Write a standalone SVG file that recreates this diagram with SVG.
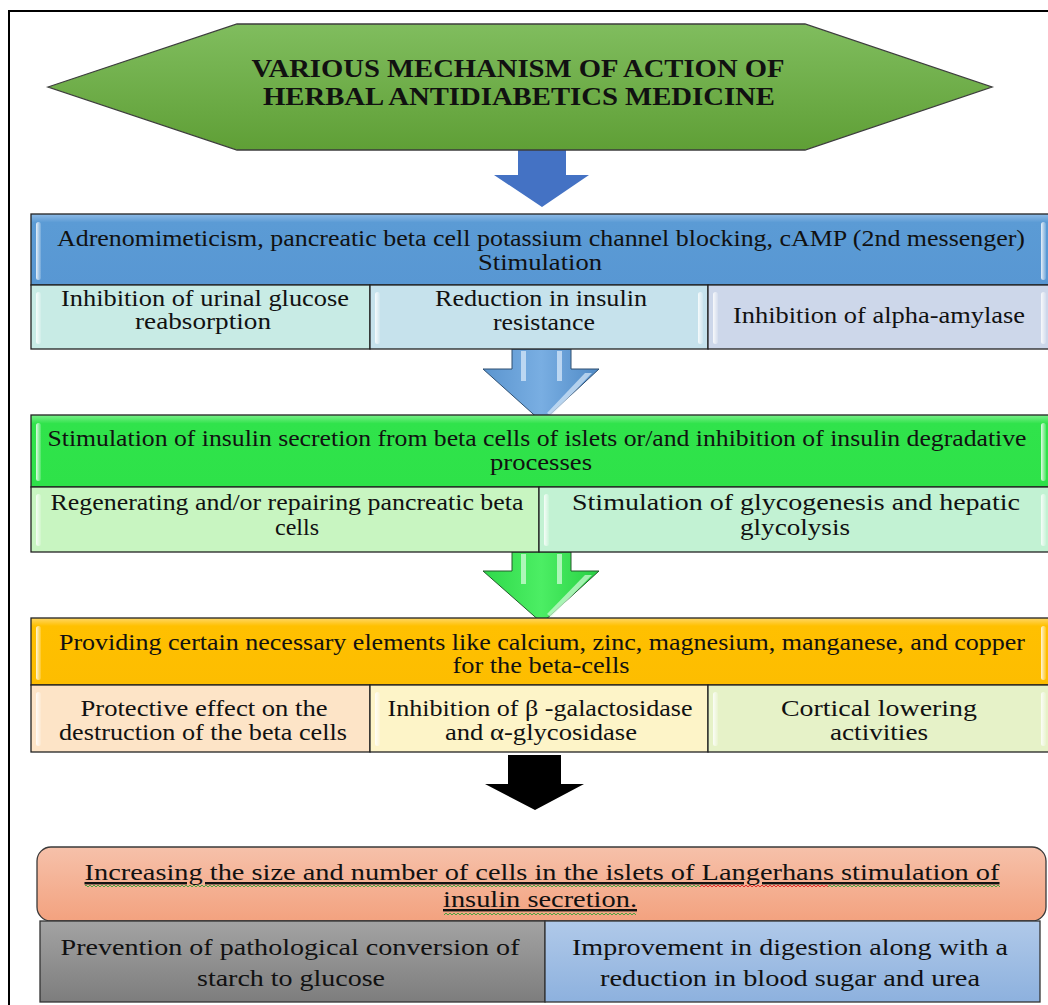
<svg xmlns="http://www.w3.org/2000/svg" width="1048" height="1005" viewBox="0 0 1048 1005">
<defs>
<style>
.t{font-family:"Liberation Serif","Times New Roman",serif;font-size:23px;fill:#111;text-anchor:middle}
.tb{font-weight:bold;font-size:25px;fill:#111}
.t4{font-size:24px}
.ul{text-decoration:underline}
.cell{stroke:#222;stroke-width:1.3}
.gl{fill:url(#gloss)}
</style>
<linearGradient id="hexG" x1="0" y1="0" x2="0" y2="1"><stop offset="0" stop-color="#80bd5e"/><stop offset="1" stop-color="#5f9f36"/></linearGradient>
<linearGradient id="h1" x1="0" y1="0" x2="0" y2="1"><stop offset="0" stop-color="#8fbbe6"/><stop offset="0.12" stop-color="#5b9bd5"/><stop offset="1" stop-color="#5897d3"/></linearGradient>
<linearGradient id="h2" x1="0" y1="0" x2="0" y2="1"><stop offset="0" stop-color="#7cf08c"/><stop offset="0.12" stop-color="#30e34b"/><stop offset="1" stop-color="#2ee249"/></linearGradient>
<linearGradient id="h3" x1="0" y1="0" x2="0" y2="1"><stop offset="0" stop-color="#ffd766"/><stop offset="0.12" stop-color="#ffc000"/><stop offset="1" stop-color="#fdbd00"/></linearGradient>
<linearGradient id="h4" x1="0" y1="0" x2="0" y2="1"><stop offset="0" stop-color="#f6c1aa"/><stop offset="1" stop-color="#f3a27f"/></linearGradient>
<linearGradient id="gray" x1="0" y1="0" x2="0" y2="1"><stop offset="0" stop-color="#a3a3a3"/><stop offset="1" stop-color="#7d7d7d"/></linearGradient>
<linearGradient id="lblue" x1="0" y1="0" x2="0" y2="1"><stop offset="0" stop-color="#b0c9e9"/><stop offset="1" stop-color="#8db1de"/></linearGradient>
<linearGradient id="gloss" x1="0" y1="0" x2="1" y2="0"><stop offset="0" stop-color="#fff" stop-opacity="0.85"/><stop offset="1" stop-color="#fff" stop-opacity="0.15"/></linearGradient>
<linearGradient id="a2g" x1="0" y1="0" x2="1" y2="0"><stop offset="0" stop-color="#5b95cf"/><stop offset="0.5" stop-color="#79aee2"/><stop offset="1" stop-color="#4f8ac6"/></linearGradient>
<linearGradient id="a3g" x1="0" y1="0" x2="1" y2="0"><stop offset="0" stop-color="#2fd94a"/><stop offset="0.5" stop-color="#4cee64"/><stop offset="1" stop-color="#28d043"/></linearGradient>
<pattern id="wavG" width="4" height="4" patternUnits="userSpaceOnUse"><path d="M0,3 L2,1 L4,3" fill="none" stroke="#3aa33a" stroke-width="0.9"/></pattern>
<pattern id="wavR" width="4" height="4" patternUnits="userSpaceOnUse"><path d="M0,3 L2,1 L4,3" fill="none" stroke="#e02020" stroke-width="0.9"/></pattern>
</defs>
<rect width="1048" height="1005" fill="#fff"/>
<rect x="9" y="11" width="1100" height="1100" fill="none" stroke="#000" stroke-width="2"/>

<g id="connectors">
<polygon points="518,149 566,149 566,175 589,175 542,207 494,175 518,175" fill="#4472c4"/>
<g id="arrow2">
<polygon points="512,349 571,349 571,369 599,369 542,422 483,369 512,369" fill="url(#a2g)" stroke="#2f4f70" stroke-width="1"/>
<rect x="521" y="351" width="5" height="30" fill="#cfe4f7" opacity="0.8"/>
<rect x="557" y="351" width="5" height="30" fill="#cfe4f7" opacity="0.8"/>
<polygon points="585,373 592,373 551,416 547,413" fill="#d8eaf9" opacity="0.7"/>
</g>
<g id="arrow3">
<polygon points="512,552 571,552 571,571 599,571 542,623 483,571 512,571" fill="url(#a3g)" stroke="#245a2c" stroke-width="1"/>
<rect x="521" y="554" width="5" height="30" fill="#c8fad0" opacity="0.8"/>
<rect x="557" y="554" width="5" height="30" fill="#c8fad0" opacity="0.8"/>
<polygon points="585,575 592,575 551,617 547,614" fill="#d6fcdc" opacity="0.7"/>
</g>
<polygon points="508,755 561,755 561,784 584,784 535,810 485,784 508,784" fill="#000"/>
</g>

<g id="title">
<polygon points="48,87 237,24 805,24 992,87 805,150 237,150" fill="url(#hexG)" stroke="#3d3d3d" stroke-width="1.3"/>
<text class="t tb" x="518" y="77" textLength="533" lengthAdjust="spacingAndGlyphs">VARIOUS MECHANISM OF ACTION OF</text>
<text class="t tb" x="519" y="105" textLength="512" lengthAdjust="spacingAndGlyphs">HERBAL ANTIDIABETICS MEDICINE</text>
</g>

<g id="block1-header">
<rect class="cell" x="31" y="214" width="1030" height="71" fill="url(#h1)"/>
<rect class="gl" x="36" y="222" width="5" height="58" rx="2.5"/>
<rect class="gl" x="1041" y="222" width="5" height="58" rx="2.5"/>
<text class="t" x="541" y="246" textLength="968" lengthAdjust="spacingAndGlyphs">Adrenomimeticism, pancreatic beta cell potassium channel blocking, cAMP (2nd messenger)</text>
<text class="t" x="540" y="270" textLength="124" lengthAdjust="spacingAndGlyphs">Stimulation</text>
</g>
<g id="block1-sub1">
<rect class="cell" x="31" y="285" width="339" height="64" fill="#c8ebe5"/>
<rect class="gl" x="36" y="292" width="5" height="52" rx="2.5"/>
<text class="t" x="205" y="306" textLength="288" lengthAdjust="spacingAndGlyphs">Inhibition of urinal glucose</text>
<text class="t" x="203" y="329" textLength="136" lengthAdjust="spacingAndGlyphs">reabsorption</text>
</g>
<g id="block1-sub2">
<rect class="cell" x="370" y="285" width="338" height="64" fill="#c6e2ec"/>
<rect class="gl" x="375" y="292" width="5" height="52" rx="2.5"/>
<rect class="gl" x="698" y="292" width="5" height="52" rx="2.5"/>
<text class="t" x="541" y="306" textLength="212" lengthAdjust="spacingAndGlyphs">Reduction in insulin</text>
<text class="t" x="544" y="330" textLength="102" lengthAdjust="spacingAndGlyphs">resistance</text>
</g>
<g id="block1-sub3">
<rect class="cell" x="708" y="285" width="353" height="64" fill="#cdd7ea"/>
<rect class="gl" x="713" y="292" width="5" height="52" rx="2.5"/>
<rect class="gl" x="1041" y="292" width="5" height="52" rx="2.5"/>
<text class="t" x="879" y="323" textLength="292" lengthAdjust="spacingAndGlyphs">Inhibition of alpha-amylase</text>
</g>

<g id="block2-header">
<rect class="cell" x="31" y="415" width="1030" height="72" fill="url(#h2)"/>
<rect class="gl" x="36" y="423" width="5" height="58" rx="2.5"/>
<rect class="gl" x="1041" y="423" width="5" height="58" rx="2.5"/>
<text class="t" x="537" y="446" textLength="979" lengthAdjust="spacingAndGlyphs">Stimulation of insulin secretion from beta cells of islets or/and inhibition of insulin degradative</text>
<text class="t" x="541" y="470" textLength="102" lengthAdjust="spacingAndGlyphs">processes</text>
</g>
<g id="block2-sub1">
<rect class="cell" x="31" y="487" width="508" height="65" fill="#c8f5c1"/>
<rect class="gl" x="36" y="494" width="5" height="52" rx="2.5"/>
<text class="t" x="287" y="510" textLength="473" lengthAdjust="spacingAndGlyphs">Regenerating and/or repairing pancreatic beta</text>
<text class="t" x="297" y="535" textLength="44" lengthAdjust="spacingAndGlyphs">cells</text>
</g>
<g id="block2-sub2">
<rect class="cell" x="539" y="487" width="522" height="65" fill="#c2f2d3"/>
<rect class="gl" x="544" y="494" width="5" height="52" rx="2.5"/>
<rect class="gl" x="1041" y="494" width="5" height="52" rx="2.5"/>
<text class="t" x="796" y="510" textLength="448" lengthAdjust="spacingAndGlyphs">Stimulation of glycogenesis  and hepatic</text>
<text class="t" x="795" y="535" textLength="110" lengthAdjust="spacingAndGlyphs">glycolysis</text>
</g>

<g id="block3-header">
<rect class="cell" x="31" y="618" width="1030" height="67" fill="url(#h3)"/>
<rect class="gl" x="36" y="626" width="5" height="54" rx="2.5"/>
<rect class="gl" x="1041" y="626" width="5" height="54" rx="2.5"/>
<text class="t" x="542" y="650" textLength="966" lengthAdjust="spacingAndGlyphs">Providing certain necessary elements like calcium, zinc, magnesium, manganese, and copper</text>
<text class="t" x="541" y="673" textLength="177" lengthAdjust="spacingAndGlyphs">for the beta-cells</text>
</g>
<g id="block3-sub1">
<rect class="cell" x="31" y="685" width="339" height="67" fill="#fde4c7"/>
<rect class="gl" x="36" y="692" width="5" height="54" rx="2.5"/>
<text class="t" x="204" y="716" textLength="247" lengthAdjust="spacingAndGlyphs">Protective effect on the</text>
<text class="t" x="203" y="740" textLength="288" lengthAdjust="spacingAndGlyphs">destruction of the beta cells</text>
</g>
<g id="block3-sub2">
<rect class="cell" x="370" y="685" width="338" height="67" fill="#fdf4c8"/>
<rect class="gl" x="375" y="692" width="5" height="54" rx="2.5"/>
<text class="t" x="540" y="716" textLength="305" lengthAdjust="spacingAndGlyphs">Inhibition of β -galactosidase</text>
<text class="t" x="541" y="740" textLength="192" lengthAdjust="spacingAndGlyphs">and α-glycosidase</text>
</g>
<g id="block3-sub3">
<rect class="cell" x="708" y="685" width="353" height="67" fill="#e6f2c8"/>
<rect class="gl" x="713" y="692" width="5" height="54" rx="2.5"/>
<rect class="gl" x="1041" y="692" width="5" height="54" rx="2.5"/>
<text class="t" x="879" y="716" textLength="196" lengthAdjust="spacingAndGlyphs">Cortical lowering</text>
<text class="t" x="879" y="740" textLength="98" lengthAdjust="spacingAndGlyphs">activities</text>
</g>

<g id="block4-header">
<rect x="37" y="847" width="1009" height="74" rx="14" fill="url(#h4)" stroke="#3a3a3a" stroke-width="1.3"/>
<text class="t t4 ul" x="542" y="880" textLength="915" lengthAdjust="spacingAndGlyphs">Increasing the size and number of cells in the islets of Langerhans stimulation of</text>
<rect x="85" y="884" width="615" height="4" fill="url(#wavG)"/>
<rect x="700" y="884" width="128" height="4" fill="url(#wavR)"/>
<rect x="828" y="884" width="172" height="4" fill="url(#wavG)"/>
<text class="t t4 ul" x="540" y="907" textLength="194" lengthAdjust="spacingAndGlyphs">insulin secretion.</text>
<rect x="444" y="912" width="192" height="4" fill="url(#wavG)"/>
</g>
<g id="block4-sub1">
<rect x="40" y="921" width="505" height="81" fill="url(#gray)" stroke="#333" stroke-width="1.3"/>
<text class="t t4" x="290" y="955" textLength="459" lengthAdjust="spacingAndGlyphs">Prevention of pathological conversion of</text>
<text class="t t4" x="291" y="986" textLength="188" lengthAdjust="spacingAndGlyphs">starch to glucose</text>
</g>
<g id="block4-sub2">
<rect x="545" y="921" width="495" height="81" fill="url(#lblue)" stroke="#333" stroke-width="1.3"/>
<text class="t t4" x="790" y="955" textLength="436" lengthAdjust="spacingAndGlyphs">Improvement in digestion along with a</text>
<text class="t t4" x="790" y="986" textLength="380" lengthAdjust="spacingAndGlyphs">reduction in blood sugar and urea</text>
</g>
</svg>
